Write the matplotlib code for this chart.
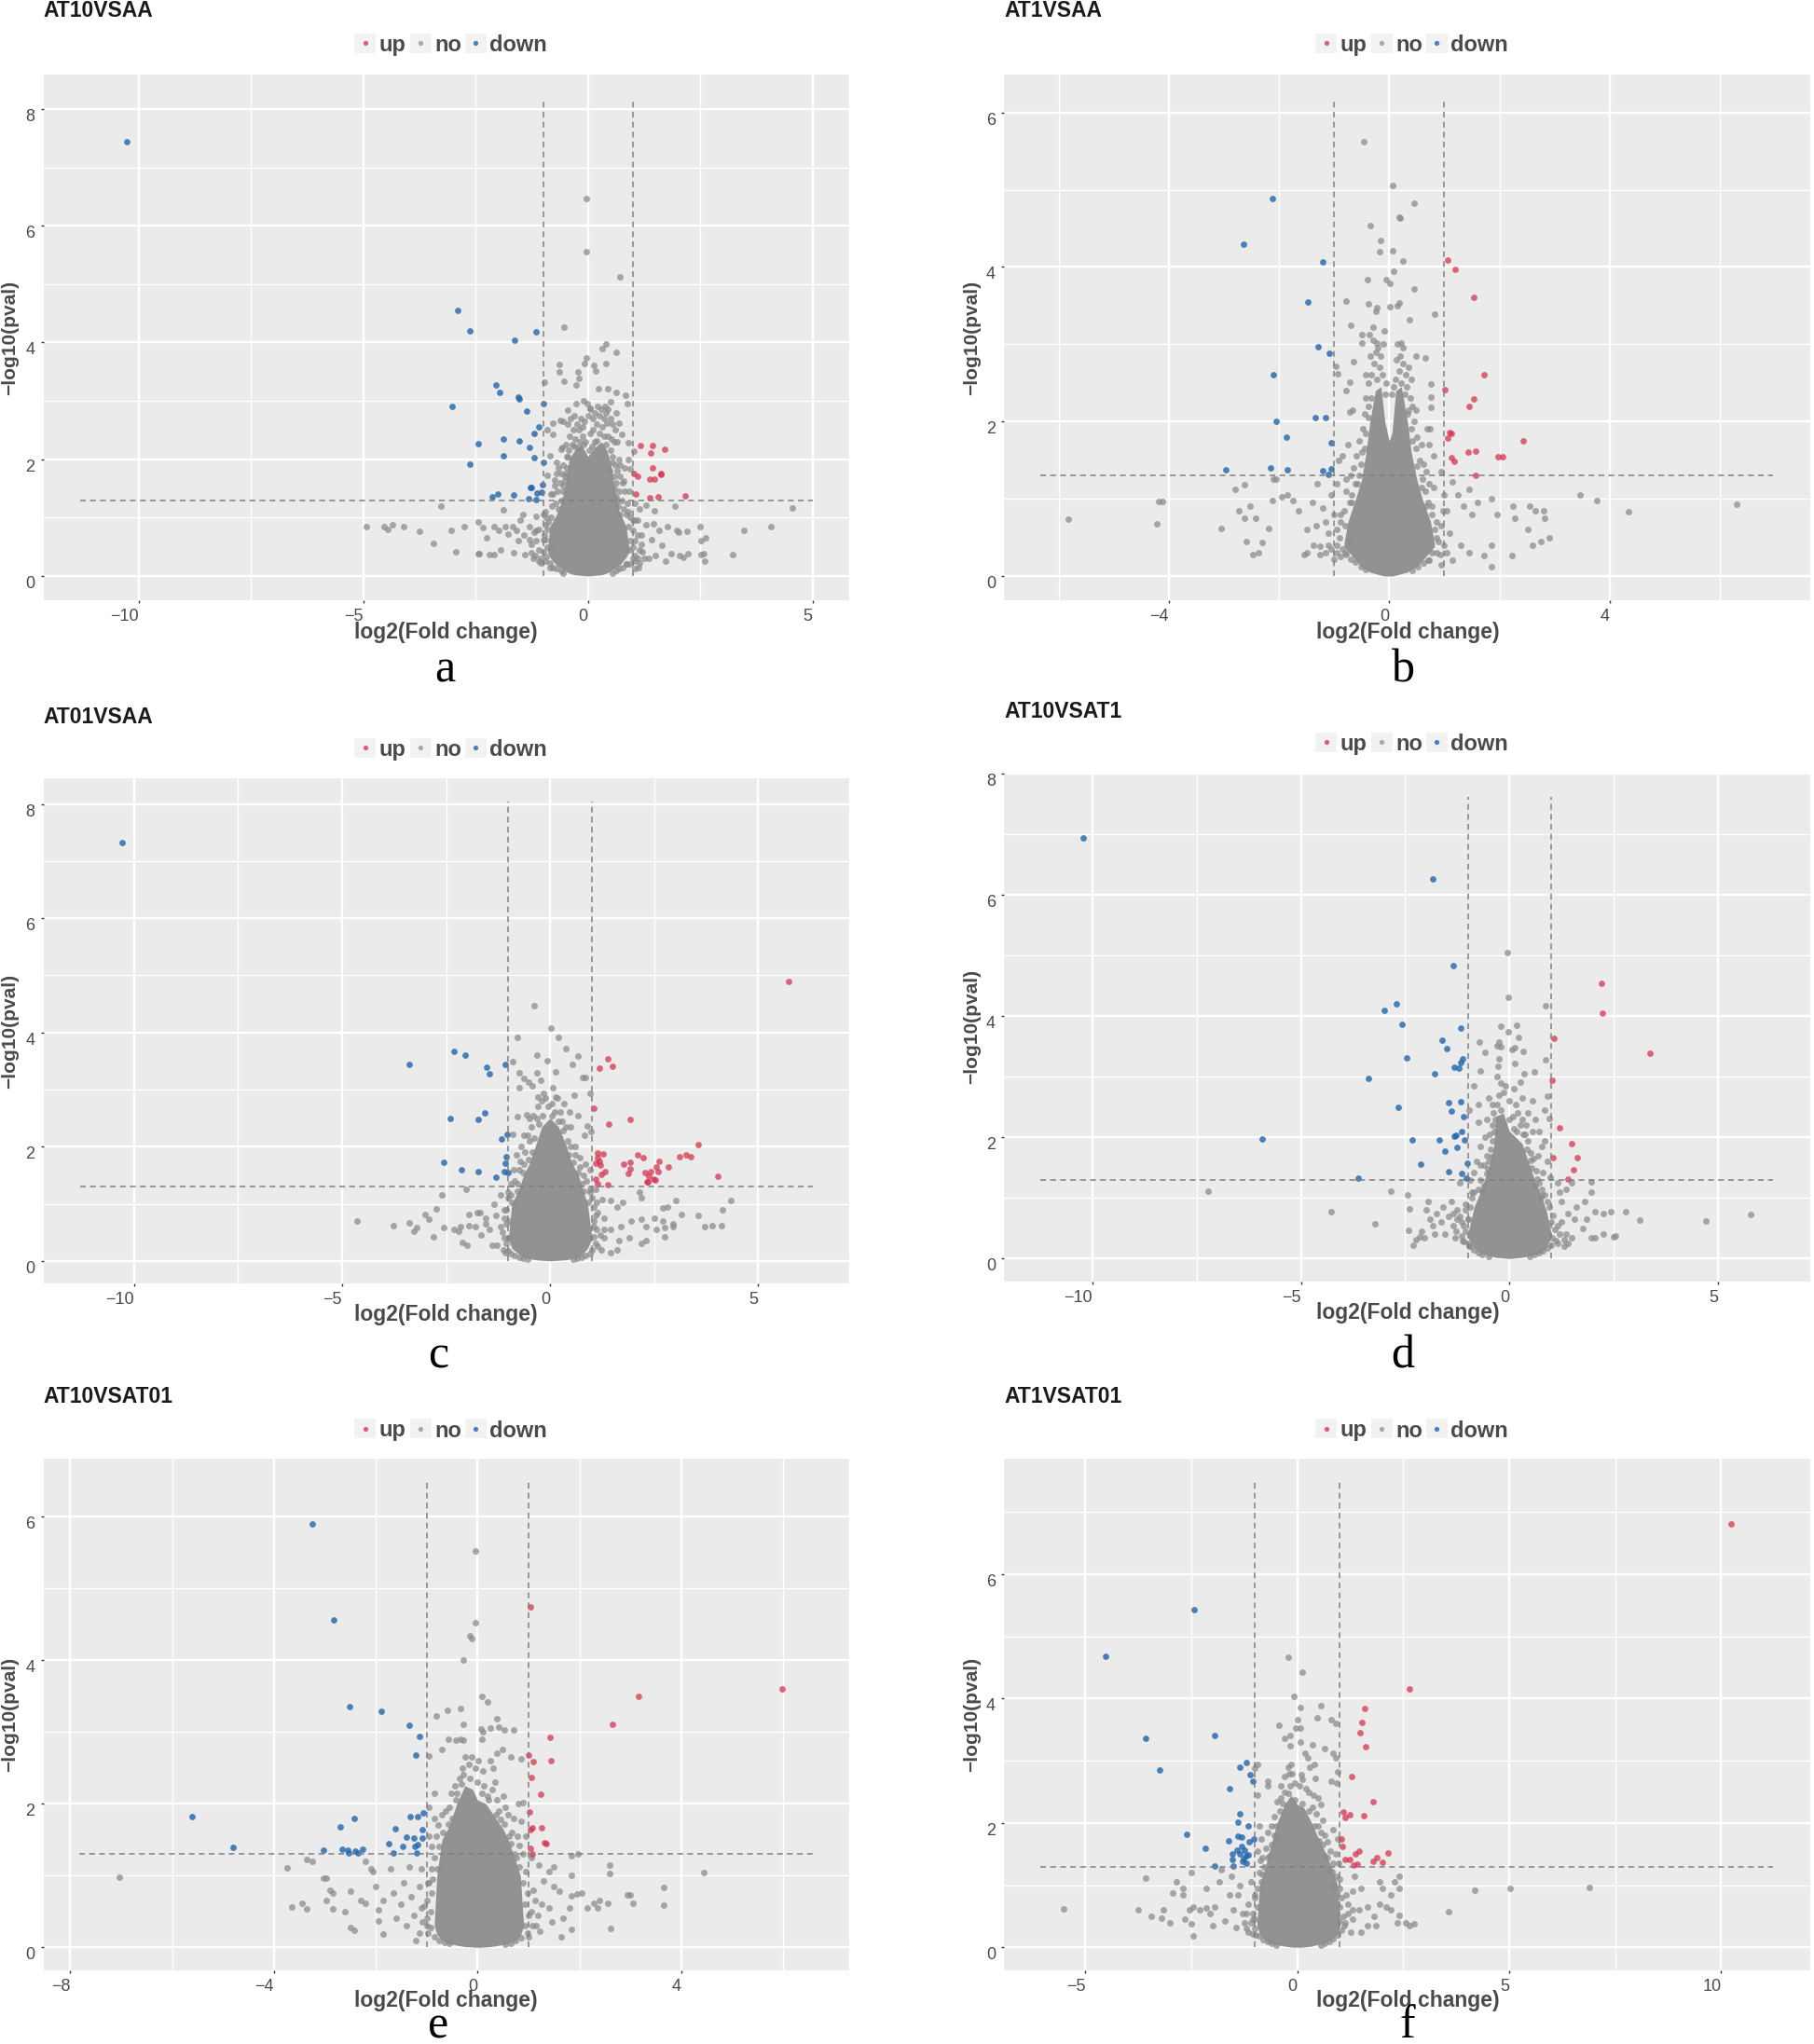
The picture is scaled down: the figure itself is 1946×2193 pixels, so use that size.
import matplotlib
matplotlib.use("Agg")
import matplotlib.pyplot as plt
from matplotlib.patches import Rectangle
from matplotlib.lines import Line2D

W, H = 1946, 2193
plt.rcParams['font.family'] = ['Liberation Sans', 'DejaVu Sans']

# ---------- data ----------
a_down = [(-10.28,7.44),(-2.90,4.55),(-2.64,4.20),(-1.64,4.04),(-1.16,4.19),(-2.04,3.28),(-1.97,3.15),(-1.56,3.06),(-1.54,3.04),
          (-3.02,2.91),(-0.99,2.96),(-1.37,2.82),(-1.10,2.55),(-1.19,2.45),(-2.45,2.27),(-1.89,2.35),(-1.53,2.32),(-1.30,2.20),
          (-1.88,2.06),(-1.20,2.02),(-0.99,1.94),(-2.63,1.91),(-1.02,1.56),(-1.28,1.51),(-1.27,1.52),(-2.01,1.40),(-2.13,1.36),
          (-1.65,1.39),(-1.13,1.42),(-1.04,1.43),(-1.33,1.32),(-1.16,1.31)]
a_up = [(1.16,2.23),(1.44,2.23),(1.70,2.17),(1.39,2.10),(1.43,1.85),(1.03,1.75),(1.10,1.71),(1.62,1.74),(1.63,1.75),(1.37,1.66),
        (1.49,1.66),(1.07,1.40),(1.37,1.34),(1.56,1.35),(2.16,1.37)]
a_no = [(-0.04,6.46),(-0.03,5.56),(0.71,5.12),(-0.54,4.27),(0.41,3.98),(0.31,3.90),(0.62,3.83),(-0.04,3.73),(-0.64,3.62),(-0.64,3.49),
        (0.14,3.61),(0.41,3.64),(-0.08,3.64),(-0.53,3.33),(-0.98,3.32),(-0.23,3.49),(-0.21,3.38),(-0.27,3.27),(0.18,3.51),(0.24,3.21),
        (0.44,3.21),(0.63,3.14),(0.84,3.09),(0.88,2.95),(0.50,2.99),(-0.27,2.95),(-0.46,2.84),(0.05,2.88),(0.63,2.80),(0.70,2.62),
        (-0.62,2.66),(-0.79,2.62),(-0.91,2.51),(-0.79,2.43),(0.76,2.43),(0.89,2.29),(1.02,2.14),(-0.59,2.17),(-0.85,2.06),(0.89,1.99),
        (0.95,1.84),(-0.91,1.73),(-0.75,1.55),(-0.82,1.40),(0.72,1.90),(0.80,1.62),(0.92,1.45),(1.05,1.25),(1.15,1.15),(1.30,1.22),
        (1.48,1.12),(1.93,1.19),(4.55,1.16),(-3.28,1.19),(-1.88,1.14),(-1.45,1.05),(-1.15,1.02),(-0.95,1.10),(-0.88,0.92),
        (-4.93,0.85),(-4.55,0.84),(-4.45,0.79),(-4.35,0.88),(-4.10,0.84),(-3.75,0.77),(-3.45,0.56),(-3.05,0.78),(-2.95,0.42),(-2.75,0.84),
        (-2.45,0.92),(-2.35,0.83),(-2.45,0.39),(-2.42,0.38),(-2.25,0.65),(-2.20,0.36),(-2.10,0.37),(-2.10,0.85),(-1.98,0.78),(-1.95,0.45),
        (-1.85,0.84),(-1.78,0.72),(-1.68,0.85),(-1.60,0.78),(-1.55,0.60),(-1.65,0.40),(-1.50,0.95),(-1.42,0.70),(-1.40,0.36),(-1.30,0.85),
        (-1.25,0.55),(-1.22,0.30),(-1.15,0.78),(-1.10,0.45),(-1.05,0.22),(-1.00,0.62),(-0.92,0.33),(-0.90,0.80),(-0.85,0.15),(-0.80,0.50),
        (0.85,0.20),(0.95,0.60),(1.05,0.95),(1.05,0.35),(1.12,0.15),(1.18,0.70),(1.22,0.42),(1.30,0.88),(1.35,0.30),(1.42,0.62),(1.45,0.90),
        (1.50,0.35),(1.58,0.78),(1.65,0.52),(1.72,0.25),(1.78,0.85),(1.85,0.38),(1.98,0.78),(2.05,0.35),(2.02,0.75),(2.12,0.32),(2.22,0.38),
        (2.20,0.77),(2.50,0.85),(2.52,0.60),(2.52,0.37),(2.58,0.38),(2.60,0.25),(2.62,0.65),(3.22,0.37),(3.47,0.78),(4.08,0.85)]
a_edge = [(-0.55,2.65),(-0.45,2.6),(-0.38,2.7),(-0.3,2.75),(-0.25,2.6),(-0.2,2.5),(-0.15,2.7),(-0.12,2.4),(-0.08,2.65),(0,2.75),(0.05,2.45),(0.1,2.7),
          (0.15,2.8),(0.2,2.6),(0.25,2.75),(0.3,2.85),(0.35,2.7),(0.4,2.8),(0.45,2.85),(0.5,2.7),(0.55,2.6),(0.6,2.5),(0.05,2.85),(-0.02,2.95),(0.22,2.9),
          (0.38,2.9),(-0.1,3.0),(-0.28,2.35),(-0.32,2.5),(-0.4,2.4),(-0.35,2.25),(-0.5,2.25),(-0.58,2.2),(0.65,2.3),(0.58,2.3),(0.52,2.35),(0.45,2.4),
          (0.35,2.4),(0.15,2.3),(0.25,2.45),(-0.18,2.3),(-0.05,2.3),(-0.22,2.2),(0.32,2.55),(-0.12,2.55),(0.42,2.62),(0.12,2.5),(-0.42,2.15),(-0.3,2.22),(-0.1,2.25),
          (0.02,2.15),(0.08,2.22),(0.2,2.32),(0.4,2.25),(0.5,2.15),(0.55,1.95),(0.48,1.8),(-0.45,2.05),(-0.48,1.85),(-0.52,1.7),(-0.55,1.55),(0.58,1.5),(0.65,1.3),
          (-0.7,1.75),(-0.75,1.65),(-0.65,1.85),(-0.62,1.6),(-0.55,1.45),(-0.6,1.75),(-0.55,1.9),(-0.5,1.75),(-0.68,1.45),(-0.78,1.4),(-0.72,1.25),(-0.8,1.2),
          (-0.65,1.15),(-0.7,1.95),(-0.48,2.05),(-0.52,1.62),(-0.6,1.3),(0.6,1.9),(0.65,1.8),(0.72,1.7),(0.78,1.6),(0.62,1.6),(0.7,1.45),(0.82,1.45),(0.75,1.3),
          (0.88,1.25),(0.68,1.2),(0.8,1.15),(0.9,1.1),(0.7,2.0),(0.82,1.85),(0.58,1.7),(0.55,2.05),(0.62,1.35),(0.85,1.05),(0.72,1.05),
          (-1.0,0.42),(-1.05,0.3),(-1.1,0.25),(-0.95,0.62),(-0.98,0.7),(-0.95,0.88),(-1.1,0.8),(-1.2,0.75),(-1.15,0.6),(-1.25,0.4),(-1.18,0.35),(-1.3,0.62),
          (-0.95,0.25),(-0.85,0.22),(-0.78,0.15),(-0.7,0.12),(-0.6,0.1),(-0.55,0.05),(-0.9,0.5),(-0.92,1.0),(-0.82,1.0),(-1.0,1.05),
          (0.55,0.05),(0.62,0.1),(0.7,0.12),(0.78,0.15),(0.85,0.2),(0.95,0.2),(1.0,0.3),(1.05,0.25),(1.1,0.3),(1.0,0.5),(1.05,0.6),(1.1,0.7),(1.0,0.78),(1.0,0.95),
          (1.1,0.95),(0.95,1.0),(1.2,0.55),(1.25,0.3),(1.15,0.45),(1.05,0.12),(1.15,0.22),(0.92,0.45),(0.9,0.85)]
a_cloud_x = [-0.9,-0.85,-0.7,-0.6,-0.5,-0.42,-0.3,-0.15,0,0.15,0.3,0.42,0.5,0.6,0.7,0.85,0.92]
a_cloud_top = [0.45,0.85,1.05,1.25,1.55,2.0,2.15,2.25,2.05,2.2,2.3,2.15,1.95,1.5,1.1,0.85,0.45]
a_cloud_bot = [0.42,0.32,0.18,0.14,0.08,0.05,0.02,0.01,0,0.01,0.02,0.05,0.08,0.14,0.18,0.32,0.42]

b_down = [(-2.12,4.88),(-2.64,4.30),(-1.21,4.07),(-1.47,3.55),(-1.29,2.97),(-1.09,2.88),(-2.11,2.61),(-2.05,2.00),(-1.34,2.05),(-1.15,2.05),
          (-1.87,1.80),(-1.06,1.73),(-2.97,1.37),(-2.16,1.40),(-1.84,1.38),(-1.21,1.36),(-1.05,1.39),(-1.10,1.32)]
b_up = [(1.06,4.09),(1.19,3.97),(1.54,3.61),(1.72,2.61),(1.01,2.41),(1.53,2.29),(1.45,2.19),(1.09,1.86),(1.13,1.85),(1.06,1.78),(2.43,1.75),
        (1.56,1.62),(1.44,1.60),(1.12,1.53),(1.18,1.48),(1.97,1.54),(2.06,1.54),(1.57,1.30)]
b_no = [(-0.46,5.62),(0.06,5.06),(0.45,4.82),(0.18,4.65),(0.20,4.63),(-0.34,4.53),(-0.16,4.34),(-0.17,4.20),(0.06,4.21),(0.25,4.08),(0.08,3.95),
        (-0.40,3.84),(-0.05,3.84),(0.02,3.79),(0.46,3.72),(-0.78,3.56),(-0.37,3.52),(0.18,3.53),(0.14,3.50),(0.02,3.49),(-0.22,3.47),(-0.25,3.43),
        (0.83,3.39),(0.37,3.32),(-0.69,3.25),(-0.29,3.22),(-0.09,3.17),(-0.49,3.12),(-0.36,3.13),(-0.23,3.02),(-0.50,3.02),(0.22,3.02),(0.25,2.96),
        (0.48,2.85),(0.66,2.82),(-0.64,2.78),(-0.97,2.72),(-0.93,2.62),(0.75,2.48),(-0.71,2.51),(-0.78,2.40),(0.75,2.32),(-0.67,2.15),(0.75,2.18),
        (-0.72,2.12),(0.69,1.90),(0.74,1.91),(-0.75,1.70),(-0.85,1.55),(-0.92,1.50),(0.72,1.70),(0.80,1.55),(0.95,1.35),
        (1.15,1.22),(1.25,1.05),(1.35,0.90),(1.45,1.12),(1.60,0.95),(1.85,1.00),(1.95,0.80),(2.25,0.90),(2.28,0.75),(2.55,0.90),(2.65,0.85),(2.80,0.85),(2.82,0.75),
        (2.52,0.60),(2.60,0.40),(2.90,0.50),(2.75,0.45),(2.22,0.27),(1.85,0.40),(1.85,0.12),(1.72,0.27),(1.45,0.30),(1.50,0.80),(1.30,0.40),(1.15,0.20),
        (1.10,0.55),(1.05,0.85),(3.47,1.05),(3.77,0.98),(4.35,0.83),(6.31,0.93),
        (-5.83,0.74),(-4.18,0.96),(-4.12,0.96),(-4.22,0.67),(-3.05,0.62),(-2.80,1.12),(-2.62,1.18),(-2.72,0.84),(-2.62,0.75),(-2.60,0.45),(-2.52,0.90),
        (-2.48,0.28),(-2.42,0.75),(-2.38,0.30),(-2.30,0.43),(-2.12,0.98),(-2.18,0.62),(-2.10,1.25),(-2.05,1.25),(-1.95,1.03),(-1.85,1.05),(-1.75,0.98),
        (-1.65,0.85),(-1.55,0.28),(-1.50,0.60),(-1.50,0.30),(-1.40,0.95),(-1.38,0.40),(-1.32,0.65),(-1.30,1.20),(-1.25,0.38),(-1.20,0.88),(-1.15,0.70),
        (-1.10,0.40),(-1.05,1.05),(-1.00,0.22),(-0.95,1.20),(-0.95,0.60),(-0.88,0.80),(-0.80,0.30),(-0.78,1.25),(-0.72,0.45),(0.78,0.90),(0.72,0.20),(0.85,0.50)]
b_edge = [(-0.3,3.05),(-0.25,2.9),(-0.2,2.95),(-0.28,2.75),(-0.18,2.7),(-0.32,2.6),(-0.22,2.55),(-0.12,2.6),(-0.38,2.5),(-0.42,2.6),(-0.15,2.85),(-0.35,2.85),(-0.1,3.0),
          (0.15,3.0),(0.2,2.85),(0.13,2.8),(0.25,2.75),(0.18,2.65),(0.12,2.55),(0.3,2.6),(0.35,2.7),(0.22,2.5),(0.4,2.55),(0.32,2.45),(0.08,2.45),(0.05,2.35),
          (-0.05,2.5),(-0.08,2.35),(-0.42,2.3),(-0.38,2.2),(-0.45,2.1),(0.42,2.2),(0.38,2.3),(0.35,2.15),(0.48,2.15),(0.45,2.0),(-0.48,1.9),(-0.42,1.85),(0.4,1.9),
          (-0.33,2.3),(-0.38,2.05),(0.28,2.35),(0.34,2.1),(0.42,1.75),(-0.45,1.65),(-0.52,1.45),(0.5,1.42),(-0.58,1.2),(0.58,1.15),(-0.68,0.95),(0.68,0.9),
          (-0.55,1.75),(-0.5,1.6),(-0.6,1.55),(-0.65,1.4),(-0.55,1.3),(-0.62,1.2),(-0.7,1.3),(-0.78,1.1),(-0.68,1.05),(-0.72,0.95),
          (0.5,1.8),(0.48,1.65),(0.58,1.7),(0.55,1.5),(0.62,1.45),(0.68,1.35),(0.6,1.25),(0.72,1.2),(0.65,1.1),(0.8,1.15),(0.7,0.95),
          (-0.82,0.85),(-0.88,0.7),(-0.8,0.65),(-0.9,0.5),(-0.95,0.4),(-0.85,0.35),(-0.95,0.3),(-0.88,0.25),(-0.78,0.28),(-0.7,0.22),(-0.62,0.18),(-0.52,0.12),(-0.42,0.08),
          (-1.05,0.35),(-1.1,0.55),(-1.0,0.8),(-1.15,0.3),(-1.25,0.28),
          (0.78,0.8),(0.85,0.7),(0.82,0.6),(0.9,0.45),(0.85,0.3),(0.92,0.28),(0.95,0.65),(0.78,0.3),(0.7,0.2),(0.62,0.17),(0.52,0.12),(0.42,0.07),(1.0,0.4),(1.05,0.3),
          (0.95,0.15),(0.98,0.85),(1.0,1.05)]
b_cloud_x = [-0.82,-0.75,-0.6,-0.5,-0.42,-0.35,-0.25,-0.15,-0.08,0,0.05,0.12,0.22,0.33,0.4,0.5,0.6,0.75,0.82]
b_cloud_top = [0.42,0.7,1.02,1.25,1.6,2.0,2.4,2.45,2.0,1.75,1.85,2.4,2.45,2.0,1.6,1.25,1.0,0.7,0.42]
b_cloud_bot = [0.38,0.32,0.2,0.12,0.09,0.05,0.03,0.01,0,0,0,0.01,0.03,0.05,0.09,0.12,0.2,0.32,0.38]

c_down = [(-10.28,7.32),(-3.38,3.44),(-2.32,3.67),(-2.04,3.60),(-1.53,3.39),(-1.46,3.27),(-1.08,3.44),(-2.41,2.50),(-1.72,2.48),(-1.57,2.59),
          (-1.03,2.21),(-1.17,2.14),(-2.55,1.73),(-1.06,1.82),(-1.08,1.71),(-2.13,1.60),(-1.72,1.57),(-1.11,1.56),(-1.31,1.46),(-1.02,1.54)]
c_up = [(5.73,4.89),(1.38,3.54),(1.18,3.38),(1.50,3.40),(1.04,2.67),(1.93,2.47),(1.42,2.39),(3.57,2.04),(3.27,1.86),(3.39,1.83),(3.12,1.82),
        (2.10,1.85),(2.24,1.80),(1.13,1.89),(1.28,1.88),(1.14,1.80),(1.10,1.71),(1.18,1.74),(1.20,1.67),(1.77,1.69),(1.92,1.73),(2.63,1.74),
        (2.56,1.65),(2.84,1.64),(1.92,1.61),(1.88,1.53),(2.60,1.56),(2.29,1.54),(2.42,1.56),(2.38,1.48),(2.49,1.44),(2.53,1.42),(2.32,1.38),
        (2.34,1.39),(4.02,1.48),(1.31,1.56),(1.24,1.52),(1.10,1.44),(1.14,1.35),(1.38,1.33)]
c_no = [(-0.39,4.46),(0.03,4.08),(-0.79,3.91),(0.21,3.92),(0.38,3.72),(-0.31,3.60),(0.67,3.59),(-0.08,3.51),(-0.89,3.49),(0.53,3.44),(0.13,3.31),
        (-0.63,3.19),(-0.32,3.29),(0.78,3.21),(0.85,3.21),(-0.75,3.29),(-0.51,3.13),(-0.22,3.17),(-0.43,3.06),(-0.75,3.03),(0.06,3.03),(-0.15,2.94),
        (0.96,2.93),(0.58,2.90),(0.13,2.87),(-0.29,2.87),(0.33,2.75),(0.47,2.60),(0.68,2.54),(0.89,2.37),(0.99,2.26),(0.82,2.20),(-0.89,2.21),
        (-0.78,2.52),(-0.57,2.56),(0.95,1.25),(1.10,1.25),(1.25,1.08),
        (1.45,1.05),(1.60,0.95),(1.75,1.02),(2.15,1.20),(2.20,1.10),(3.03,1.06),(2.70,0.92),(2.82,0.95),(3.15,0.82),(3.55,0.80),(4.35,1.05),(4.15,0.89),
        (3.72,0.60),(3.90,0.61),(4.13,0.62),(2.95,0.60),(2.95,0.65),(2.70,0.70),(2.75,0.58),(2.75,0.42),(2.50,0.75),(2.20,0.73),(2.30,0.60),(2.20,0.30),
        (2.30,0.35),(2.55,0.55),(1.95,0.70),(1.90,0.40),(1.70,0.60),(1.65,0.35),(1.60,0.20),(1.45,0.55),(1.45,0.14),(1.30,0.75),(1.30,0.40),(1.15,0.85),
        (1.15,0.25),(1.05,0.60),
        (-4.63,0.70),(-3.77,0.61),(-3.38,0.67),(-3.27,0.52),(-3.20,0.59),(-3.00,0.82),(-2.92,0.73),(-2.73,0.91),(-2.80,0.42),(-2.60,1.15),(-2.55,0.59),
        (-2.30,0.55),(-2.20,0.52),(-2.15,0.60),(-2.10,0.32),(-2.00,0.28),(-2.03,1.25),(-1.95,0.62),(-1.95,0.82),(-1.80,0.60),(-1.75,0.85),(-1.68,0.85),
        (-1.65,0.45),(-1.55,0.65),(-1.55,0.75),(-1.45,0.55),(-1.35,1.00),(-1.40,0.28),(-1.30,0.80),(-1.28,0.28),(-1.20,1.15),(-1.18,0.60),(-1.10,0.90),
        (-1.08,0.15),(-1.02,0.40),(-1.00,1.20),(-0.98,0.70)]
c_edge = [(-0.5,2.5),(-0.4,2.55),(-0.45,2.35),(-0.32,2.5),(-0.3,2.7),(-0.2,2.8),(-0.12,2.85),(-0.05,2.7),(0.05,2.75),(0.12,2.6),(0.18,2.85),(0.25,2.6),(0.3,2.45),(0.38,2.35),
          (0.2,2.45),(0.05,2.55),(-0.18,2.55),(-0.55,2.2),(-0.62,2.2),(-0.5,2.1),(-0.7,2.0),(-0.6,1.9),(-0.8,1.85),(-0.72,1.75),(-0.62,1.7),(-0.88,1.6),(-0.75,1.6),(-0.95,1.35),(-0.85,1.4),
          (-0.78,1.35),(-1.0,1.1),(-0.95,1.15),(0.5,2.35),(0.6,2.0),(0.5,2.0),(0.72,1.8),(0.6,1.85),(0.85,1.7),(0.72,1.65),(0.95,1.6),(0.8,1.5),(0.88,1.4),(0.75,1.35),(0.95,1.2),(1.0,1.1),
          (-0.38,2.15),(-0.28,2.4),(0.32,2.28),(0.42,2.1),(-0.42,1.9),(-0.52,1.78),(0.45,1.85),(0.55,1.72),(-0.66,1.55),(0.68,1.55),(-0.78,1.22),(0.8,1.22),(-0.92,1.02),(0.92,1.02),
          (-1.05,0.9),(-1.1,0.75),(-1.05,0.65),(-1.15,0.5),(-1.1,0.4),(-1.05,0.3),(-1.12,0.2),(-1.0,0.18),(-0.95,0.12),(-0.85,0.1),(-0.75,0.07),(-0.65,0.05),(-0.55,0.03),
          (1.05,0.95),(1.1,0.8),(1.05,0.7),(1.12,0.55),(1.05,0.42),(1.1,0.3),(1.0,0.2),(0.95,0.12),(0.85,0.09),(0.75,0.07),(0.65,0.04),(0.55,0.03),(1.2,0.45),(1.22,0.2),(1.3,0.55),(1.12,1.02)]
c_cloud_x = [-1.0,-0.92,-0.75,-0.64,-0.5,-0.36,-0.2,0,0.2,0.4,0.5,0.68,0.78,0.9,1.0]
c_cloud_top = [0.42,1.0,1.25,1.5,1.7,2.0,2.35,2.5,2.35,2.0,1.75,1.5,1.25,1.0,0.42]
c_cloud_bot = [0.38,0.22,0.12,0.07,0.04,0.02,0.01,0,0.01,0.02,0.04,0.07,0.12,0.22,0.38]

d_down = [(-10.22,6.95),(-1.84,6.27),(-1.35,4.83),(-2.72,4.20),(-3.00,4.09),(-2.58,3.86),(-1.18,3.81),(-1.61,3.61),(-1.51,3.47),(-2.47,3.31),
          (-1.12,3.30),(-1.18,3.23),(-1.32,3.16),(-1.21,3.15),(-1.79,3.05),(-3.38,2.98),(-1.46,2.58),(-1.18,2.59),(-2.66,2.49),(-1.40,2.43),
          (-1.10,2.34),(-1.14,2.09),(-1.28,2.03),(-1.32,2.02),(-5.94,1.97),(-2.34,1.96),(-1.69,1.96),(-1.08,1.96),(-1.25,1.84),(-1.54,1.78),
          (-2.12,1.56),(-1.01,1.57),(-1.47,1.44),(-1.14,1.41),(-1.04,1.33),(-3.62,1.33)]
d_up = [(2.21,4.54),(2.22,4.05),(1.07,3.63),(3.36,3.39),(1.01,2.94),(1.19,2.16),(1.50,1.89),(1.04,1.67),(1.62,1.66),(1.54,1.47),(1.39,1.31)]
d_no = [(-0.06,5.05),(-0.04,4.32),(0.86,4.18),(-0.22,3.83),(0.16,3.85),(-0.03,3.75),(0.22,3.65),(-0.72,3.58),(-0.25,3.58),(-0.30,3.52),(-0.20,3.50),
        (-0.58,3.41),(0.05,3.45),(0.13,3.48),(0.32,3.42),(-0.25,3.30),(0.86,3.28),(0.12,3.22),(-0.28,3.18),(-0.70,3.10),(0.60,3.08),(0.35,3.05),(-0.30,3.00),
        (-0.85,2.85),(-0.20,2.90),(0.25,2.92),(0.10,2.80),(0.30,2.65),(-0.50,2.65),(-0.75,2.55),(0.55,2.60),(-0.98,2.45),(0.90,2.68),(0.85,2.45),(0.95,2.32),
        (-0.55,2.30),(0.45,2.40),(0.62,2.30),(-0.75,2.25),(0.70,2.10),(0.55,2.10),(-0.60,2.00),(-0.70,1.85),(0.78,1.85),(0.85,1.95),(0.68,1.70),(-0.80,1.60),
        (-0.70,1.55),(0.90,1.60),(0.80,1.42),(-0.85,1.42),(-0.95,1.30),(0.98,1.35),(1.15,1.25),(1.20,1.10),(1.35,1.15),(1.50,1.25),(1.95,1.27),(1.95,1.10),
        (1.80,0.95),(1.60,0.85),(1.40,0.75),(1.25,0.95),(1.15,0.55),(1.35,0.40),(1.50,0.35),(1.55,0.65),(1.75,0.50),(1.85,0.65),(1.95,0.35),(2.05,0.35),
        (2.05,0.78),(2.25,0.75),(2.25,0.40),(2.43,0.77),(2.50,0.36),(2.55,0.37),(2.78,0.78),(3.13,0.64),(4.70,0.62),(5.78,0.73),(1.15,0.25),(1.30,0.20),
        (-7.22,1.12),(-4.28,0.77),(-3.23,0.58),(-2.85,1.12),(-2.45,1.05),(-2.40,0.82),(-2.42,0.46),(-2.30,0.22),(-2.25,0.32),(-2.15,0.36),(-2.10,0.45),
        (-2.05,0.35),(-2.00,0.80),(-1.95,0.95),(-1.90,0.65),(-1.85,0.55),(-1.80,0.40),(-1.75,0.75),(-1.65,0.60),(-1.60,0.85),(-1.55,0.40),(-1.45,0.70),
        (-1.40,0.95),(-1.35,0.55),(-1.30,0.35),(-1.25,0.80),(-1.20,1.25),(-1.15,0.60),(-1.12,0.30),(-1.05,0.90),(-1.00,0.65),(-0.98,0.20),(-0.90,1.10)]
d_edge = [(-0.2,2.45),(-0.15,2.75),(-0.1,2.85),(-0.25,2.7),(0.0,2.6),(0.15,2.55),(0.08,2.35),(0.2,2.4),(0.3,2.3),(-0.38,2.4),(-0.42,2.55),(-0.3,2.55),(0.0,2.3),(0.25,2.2),(0.4,2.2),(0.18,2.1),
          (-0.42,2.2),(-0.48,2.05),(-0.4,1.95),(0.38,2.05),(0.45,1.95),(-0.45,1.8),(-0.55,1.7),(-0.5,1.6),(-0.62,1.55),(-0.55,1.4),(-0.7,1.3),(-0.62,1.2),(-0.75,1.15),
          (-0.85,1.1),(0.5,1.75),(0.58,1.65),(0.52,1.5),(0.65,1.45),(0.7,1.25),(0.62,1.2),(0.78,1.15),(0.85,1.05),(0.9,0.95),(0.75,1.0),
          (-0.35,2.3),(-0.36,2.1),(0.1,2.15),(0.32,2.05),(0.42,1.8),(-0.43,1.68),(0.5,1.62),(-0.52,1.48),(-0.66,1.12),(0.66,1.32),(0.78,1.05),
          (-0.9,1.0),(-0.95,0.85),(-1.05,0.8),(-1.0,0.65),(-1.1,0.55),(-1.05,0.45),(-1.15,0.38),(-1.1,0.28),(-1.0,0.25),(-0.95,0.2),(-0.85,0.15),(-0.75,0.1),(-0.65,0.07),(-0.5,0.04),
          (-1.25,0.65),(-1.35,0.75),(-1.28,0.45),(-1.2,0.7),
          (0.95,0.85),(1.05,0.72),(1.0,0.6),(1.08,0.48),(1.02,0.35),(1.12,0.3),(1.0,0.22),(0.9,0.18),(0.8,0.13),(0.7,0.1),(0.6,0.06),(0.48,0.04),(1.2,0.4),(1.25,0.6),(1.3,0.32),(1.4,0.25)]
d_cloud_x = [-1.0,-0.85,-0.7,-0.5,-0.38,-0.33,-0.15,0,0.15,0.3,0.45,0.6,0.75,0.88,1.0]
d_cloud_top = [0.4,0.85,1.1,1.5,1.85,2.35,2.4,2.1,2.0,1.9,1.6,1.3,1.05,0.8,0.4]
d_cloud_bot = [0.35,0.18,0.1,0.05,0.03,0.02,0.01,0,0.01,0.02,0.04,0.07,0.1,0.18,0.35]

e_down = [(-3.24,5.89),(-2.82,4.56),(-2.51,3.35),(-1.89,3.29),(-1.35,3.09),(-1.15,2.94),(-1.22,2.67),(-5.61,1.82),(-4.81,1.39),(-2.43,1.79),(-2.70,1.68),
          (-1.07,1.87),(-1.32,1.82),(-1.18,1.82),(-1.61,1.65),(-1.08,1.64),(-1.39,1.54),(-1.25,1.52),(-1.09,1.52),(-1.75,1.45),(-1.48,1.41),(-1.17,1.43),
          (-1.23,1.40),(-1.20,1.32),(-3.02,1.35),(-2.67,1.37),(-2.56,1.35),(-2.53,1.31),(-2.40,1.34),(-2.35,1.32),(-2.25,1.37),(-1.66,1.31)]
e_up = [(5.98,3.60),(3.16,3.49),(2.64,3.10),(1.03,4.74),(1.43,2.92),(1.01,2.68),(1.09,2.59),(1.44,2.60),(1.05,2.37),(1.24,2.13),(1.02,1.89),(1.07,1.67),
        (1.03,1.64),(1.26,1.67),(1.31,1.46),(1.35,1.44),(1.03,1.38),(1.07,1.30)]
e_no = [(-0.05,5.51),(-0.05,4.52),(-0.15,4.34),(-0.12,4.30),(-0.28,4.00),(0.09,3.49),(0.20,3.41),(-0.60,3.30),(-0.34,3.32),(-0.81,3.22),(-0.28,3.10),
        (0.37,3.18),(0.25,3.05),(0.42,3.07),(0.07,3.04),(0.10,3.00),(0.52,3.03),(0.71,3.03),(-0.58,2.90),(-0.42,2.88),(-0.33,2.90),(-0.28,2.88),(0.09,2.90),
        (-0.70,2.75),(-0.95,2.66),(0.38,2.70),(0.48,2.75),(0.65,2.65),(0.85,2.62),(-0.85,2.15),(0.90,2.02),(0.80,2.00),(-0.95,1.95),(-0.85,1.80),
        (0.85,1.75),(-0.95,1.55),(0.95,1.55),(-0.90,1.40),(1.05,1.25),(1.20,1.15),(1.40,1.05),(1.50,1.12),(1.85,1.28),(1.98,1.30),
        (1.85,1.00),(2.60,1.14),(2.60,1.03),(4.45,1.04),(3.65,0.83),(3.65,0.59),(2.95,0.73),(3.00,0.73),(3.05,0.62),(2.55,0.62),(2.40,0.65),(2.28,0.62),(2.35,0.55),
        (2.15,0.55),(2.05,0.75),(1.95,0.74),(1.85,0.72),(1.80,0.55),(1.60,0.78),(1.68,0.40),(1.85,0.25),(1.65,0.15),(2.62,0.27),(1.50,0.85),(1.40,0.55),(1.45,0.35),
        (1.30,0.92),(1.25,0.60),(1.15,0.30),(1.10,0.80),(1.05,0.50),(1.00,0.15),
        (-7.03,0.98),(-3.75,1.11),(-3.35,1.22),(-3.25,1.20),(-3.02,0.97),(-2.98,0.96),(-2.90,0.80),(-3.45,0.62),(-3.65,0.56),(-3.35,0.53),(-2.97,0.65),(-2.85,0.75),(-2.85,0.53),
        (-2.60,0.50),(-2.50,0.78),(-2.50,0.28),(-2.42,0.24),(-2.30,0.65),(-2.20,0.62),(-2.20,1.20),(-2.10,1.10),(-2.05,1.05),(-2.00,0.85),(-1.95,0.52),(-1.95,0.37),
        (-1.85,0.65),(-1.85,0.19),(-1.70,1.10),(-1.65,0.75),(-1.60,0.40),(-1.50,0.60),(-1.45,0.90),(-1.40,0.30),(-1.35,1.12),(-1.30,0.70),(-1.25,0.45),(-1.22,0.10),
        (-1.15,0.85),(-1.10,1.10),(-1.05,0.58),(-1.00,0.30),(-0.98,0.90)]
e_edge = [(-0.25,2.65),(-0.18,2.55),(-0.12,2.65),(-0.05,2.5),(0.02,2.6),(0.1,2.45),(0.25,2.6),(0.3,2.5),(-0.3,2.5),(-0.35,2.35),(-0.28,2.4),(-0.15,2.35),(0.0,2.3),(0.12,2.25),(0.35,2.3),(0.28,2.2),
          (-0.45,2.25),(-0.52,2.15),(-0.4,2.15),(0.2,2.1),(0.38,2.05),(0.5,2.1),(0.55,1.95),(0.42,1.9),(-0.55,1.95),(-0.62,1.9),(-0.5,1.8),(-0.7,1.85),(0.6,1.85),(0.7,1.8),(0.52,1.72),
          (-0.78,1.7),(-0.68,1.6),(-0.82,1.55),(-0.75,1.4),(0.68,1.6),(0.78,1.55),(0.65,1.45),(0.82,1.42),(0.72,1.3),(0.9,1.3),(-0.85,1.25),(-0.8,1.1),
          (-0.32,2.28),(-0.42,2.05),(0.08,2.15),(0.22,2.05),(0.36,1.85),(0.46,1.78),(-0.58,1.72),(0.62,1.55),(0.76,1.25),(0.82,1.12),(-0.88,0.95),
          (-0.9,1.1),(-0.95,0.9),(-0.9,0.75),(-1.0,0.65),(-0.92,0.5),(-1.0,0.4),(-0.92,0.28),(-0.98,0.2),(-0.85,0.15),(-0.75,0.1),(-0.65,0.07),(-0.55,0.05),(-1.1,0.55),(-1.08,0.35),(-1.15,0.2),
          (0.95,1.05),(0.9,0.9),(0.98,0.75),(0.92,0.6),(1.0,0.45),(0.92,0.3),(0.98,0.2),(0.85,0.13),(0.75,0.09),(0.65,0.06),(0.55,0.04),(1.08,0.3),(1.12,0.65),(1.18,0.45),(1.22,0.22)]
e_cloud_x = [-0.85,-0.8,-0.7,-0.55,-0.41,-0.25,-0.1,0,0.16,0.35,0.5,0.6,0.75,0.84,0.9]
e_cloud_top = [0.35,1.0,1.5,1.7,2.0,2.25,2.2,2.05,2.0,1.8,1.65,1.5,1.2,1.0,0.35]
e_cloud_bot = [0.3,0.18,0.1,0.05,0.03,0.01,0.005,0,0.005,0.02,0.04,0.06,0.1,0.16,0.3]

f_down = [(-2.43,5.43),(-4.52,4.68),(-1.95,3.41),(-3.57,3.36),(-3.25,2.86),(-1.21,2.97),(-1.36,2.90),(-1.11,2.78),(-1.06,2.67),(-1.60,2.56),(-1.35,2.15),
          (-1.39,2.01),(-1.15,1.96),(-2.61,1.82),(-1.39,1.79),(-1.32,1.77),(-1.61,1.72),(-1.02,1.74),(-1.13,1.70),(-2.17,1.59),(-1.31,1.63),(-1.43,1.57),
          (-1.24,1.56),(-1.53,1.51),(-1.36,1.50),(-1.17,1.49),(-1.53,1.42),(-1.27,1.43),(-1.21,1.47),(-1.30,1.38),(-1.21,1.36),(-1.94,1.31),(-1.51,1.31)]
f_up = [(10.22,6.81),(2.65,4.16),(1.60,3.84),(1.53,3.62),(1.47,3.46),(1.62,3.23),(1.28,2.75),(1.79,2.34),(1.09,2.18),(1.12,2.09),(1.23,2.13),(1.57,2.12),
        (1.04,1.75),(1.06,1.62),(1.45,1.55),(1.38,1.51),(2.14,1.52),(1.88,1.44),(1.12,1.41),(1.23,1.42),(1.79,1.38),(2.01,1.37),(1.32,1.33),(1.42,1.34)]
f_no = [(-0.22,4.67),(0.11,4.43),(-0.08,4.03),(0.07,3.86),(0.56,3.89),(0.47,3.69),(0.79,3.67),(0.90,3.60),(-0.43,3.58),(0.00,3.66),(-0.03,3.53),(0.07,3.53),
        (-0.30,3.37),(-0.16,3.41),(-0.17,3.25),(0.07,3.30),(0.35,3.26),(0.18,3.12),(0.85,3.13),(0.90,3.05),(0.65,3.20),(0.25,3.05),(-0.95,2.95),(-1.00,2.88),
        (-0.15,2.95),(-0.20,2.80),(0.10,2.78),(0.30,2.90),(0.40,2.95),(0.42,2.72),(-0.70,2.68),(-0.70,2.60),(0.80,2.67),(0.93,2.65),(0.95,2.82),(-0.95,2.45),
        (-0.90,1.95),(0.85,1.90),(-0.85,1.75),(0.95,1.75),
        (0.90,1.50),(-0.95,1.55),(-0.88,1.40),(0.98,1.35),(1.35,1.15),(1.30,0.90),(1.45,0.60),(1.50,0.95),(1.20,0.55),(1.15,0.85),(1.10,0.35),(1.30,0.45),(1.50,0.25),
        (1.65,0.65),(1.65,0.35),(1.80,0.50),(1.85,0.35),(1.95,0.70),(2.10,0.65),(2.00,0.95),(1.95,1.05),(2.30,1.05),(2.40,1.15),(2.40,0.95),(2.40,0.52),(2.35,0.40),
        (2.20,0.85),(2.20,0.60),(2.55,0.40),(2.65,0.35),(2.75,0.38),(3.57,0.57),(4.18,0.92),(5.03,0.95),(6.88,0.96),
        (-5.52,0.62),(-3.75,0.61),(-3.57,1.12),(-3.45,0.50),(-3.20,0.47),(-3.15,0.60),(-3.00,0.40),(-2.95,0.87),(-2.85,1.06),(-2.70,0.95),(-2.70,0.85),(-2.65,0.45),
        (-2.55,0.60),(-2.50,1.20),(-2.45,0.65),(-2.50,0.38),(-2.45,0.18),(-2.30,0.60),(-2.15,0.63),(-2.15,0.95),(-2.05,0.55),(-2.00,0.35),(-1.95,0.65),(-1.85,1.05),
        (-1.80,1.25),(-1.70,0.42),(-1.60,0.85),(-1.55,1.15),(-1.50,0.60),(-1.45,0.32),(-1.40,0.85),(-1.35,1.00),(-1.30,0.55),(-1.20,0.30),(-1.15,0.70),(-1.10,1.05),
        (-1.05,0.45),(-1.00,0.85),(-0.98,0.20)]
f_edge = [(-0.3,2.75),(-0.22,2.9),(-0.12,2.8),(-0.05,2.65),(0.05,2.6),(0.12,2.7),(0.2,2.55),(-0.38,2.6),(-0.3,2.5),(-0.18,2.6),(0.28,2.5),(0.38,2.45),(0.48,2.4),(0.55,2.3),(-0.38,2.4),(-0.48,2.35),
          (-0.42,2.2),(0.35,2.25),(0.45,2.15),(0.6,2.05),(0.5,1.95),(-0.55,2.1),(-0.5,1.95),(-0.62,1.95),(-0.55,1.8),(-0.7,1.85),(-0.62,1.65),(0.55,1.85),(0.65,1.8),(0.72,1.7),(0.6,1.65),
          (-0.75,1.6),(-0.7,1.45),(-0.82,1.45),(-0.78,1.3),(0.78,1.55),(0.7,1.45),(0.85,1.35),(0.75,1.25),(-0.9,1.2),(-0.85,1.05),(0.9,1.15),(0.85,1.0),(1.0,1.1),
          (-0.35,2.32),(-0.22,2.48),(-0.05,2.38),(0.12,2.32),(0.28,2.2),(0.4,1.95),(0.52,1.72),(-0.5,1.78),(-0.65,1.48),(0.65,1.48),(0.82,1.22),(-0.82,1.18),
          (-0.95,0.95),(-1.0,0.8),(-0.95,0.65),(-1.05,0.55),(-1.0,0.45),(-1.1,0.4),(-1.0,0.3),(-1.05,0.22),(-0.9,0.18),(-0.8,0.13),(-0.7,0.09),(-0.6,0.06),(-0.5,0.04),(-1.2,0.55),(-1.25,0.4),(-1.15,0.25),
          (1.0,0.95),(1.05,0.8),(1.0,0.65),(1.08,0.5),(1.0,0.42),(1.12,0.4),(1.05,0.28),(0.95,0.2),(0.85,0.14),(0.75,0.1),(0.65,0.06),(0.55,0.04),(1.2,0.7),(1.25,0.25),(1.3,0.6)]
f_cloud_x = [-0.95,-0.89,-0.75,-0.68,-0.48,-0.3,-0.15,0,0.15,0.34,0.5,0.68,0.82,0.95,1.0]
f_cloud_top = [0.4,1.0,1.3,1.5,2.0,2.3,2.45,2.3,2.25,2.0,1.75,1.5,1.25,1.0,0.4]
f_cloud_bot = [0.35,0.22,0.12,0.08,0.04,0.02,0.005,0,0.005,0.02,0.05,0.08,0.14,0.22,0.35]

fc_cut = 1
p_cut = 1.3
legend_labels = ['up', 'no', 'down']

# ---------- styles and layout ----------
UP, NO, DOWN = '#d62f4a', '#8c8c8c', '#2166ac'
CORE = '#929292'
TXT = '#4a4a4a'

panels = [
    dict(title='AT10VSAA', letter='a', box=(46.5, 80, 911, 644), xlim=(-12.13, 5.82), ylim=(-0.416, 8.59),
         xmaj=[-10,-5,0,5], xmin=[-7.5,-2.5,2.5], ymaj=[0,2,4,6,8], ymin=[1,3,5,7],
         h=(-11.3, 5.0), vtop=8.18, title_y=11, leg_y=46, xl_y=678.5, yl_y=362, let=(477, 719),
         down=a_down, up=a_up, no=a_no+a_edge, cx=a_cloud_x, ct=a_cloud_top, cb=a_cloud_bot),
    dict(title='AT1VSAA', letter='b', box=(1077, 80, 1942, 644), xlim=(-6.99, 7.64), ylim=(-0.314, 6.49),
         xmaj=[-4,0,4], xmin=[-6,-2,2,6], ymaj=[0,2,4,6], ymin=[1,3,5],
         h=(-6.33, 6.97), vtop=6.19, title_y=11, leg_y=46, xl_y=678.5, yl_y=362, let=(1505, 719),
         down=b_down, up=b_up, no=b_no+b_edge, cx=b_cloud_x, ct=b_cloud_top, cb=b_cloud_bot),
    dict(title='AT01VSAA', letter='c', box=(46.5, 835, 911, 1377), xlim=(-12.18, 7.19), ylim=(-0.395, 8.45),
         xmaj=[-10,-5,0,5], xmin=[-7.5,-2.5,2.5], ymaj=[0,2,4,6,8], ymin=[1,3,5,7],
         h=(-11.3, 6.31), vtop=8.04, title_y=770, leg_y=802.5, xl_y=1410.5, yl_y=1106, let=(470, 1455),
         down=c_down, up=c_up, no=c_no+c_edge, cx=c_cloud_x, ct=c_cloud_top, cb=c_cloud_bot),
    dict(title='AT10VSAT1', letter='d', box=(1077, 829, 1942, 1375), xlim=(-12.12, 7.21), ylim=(-0.38, 8.02),
         xmaj=[-10,-5,0,5], xmin=[-7.5,-2.5,2.5], ymaj=[0,2,4,6,8], ymin=[1,3,5,7],
         h=(-11.25, 6.32), vtop=7.62, title_y=763.5, leg_y=796, xl_y=1408.5, yl_y=1101.5, let=(1505, 1455),
         down=d_down, up=d_up, no=d_no+d_edge, cx=d_cloud_x, ct=d_cloud_top, cb=d_cloud_bot),
    dict(title='AT10VSAT01', letter='e', box=(46.5, 1565, 911, 2114), xlim=(-8.53, 7.30), ylim=(-0.32, 6.80),
         xmaj=[-8,-4,0,4], xmin=[-6,-2,2,6], ymaj=[0,2,4,6], ymin=[1,3,5],
         h=(-7.82, 6.58), vtop=6.48, title_y=1498.5, leg_y=1532.5, xl_y=2147, yl_y=1839, let=(470, 2174),
         down=e_down, up=e_up, no=e_no+e_edge, cx=e_cloud_x, ct=e_cloud_top, cb=e_cloud_bot),
    dict(title='AT1VSAT01', letter='f', box=(1077, 1565, 1942, 2114), xlim=(-6.92, 12.10), ylim=(-0.37, 7.86),
         xmaj=[-5,0,5,10], xmin=[-2.5,2.5,7.5], ymaj=[0,2,4,6], ymin=[1,3,5,7],
         h=(-6.06, 11.23), vtop=7.49, title_y=1498.5, leg_y=1532.5, xl_y=2147, yl_y=1839, let=(1510, 2174),
         down=f_down, up=f_up, no=f_no+f_edge, cx=f_cloud_x, ct=f_cloud_top, cb=f_cloud_bot),
]

fig = plt.figure(figsize=(W/100, H/100), dpi=100, facecolor='white')
fx = lambda p: p / W
fy = lambda p: 1 - p / H

def minus(v):
    return f'\u2212{abs(v)}' if v < 0 else f'{v}'

for p in panels:
    l, t, r, b = p['box']
    ax = fig.add_axes([fx(l), fy(b), (r - l) / W, (b - t) / H], facecolor='#EBEBEB')
    for s in ax.spines.values():
        s.set_visible(False)
    ax.set_xlim(*p['xlim'])
    ax.set_ylim(*p['ylim'])
    ax.set_xticks(p['xmaj'])
    ax.set_xticks(p['xmin'], minor=True)
    ax.set_yticks(p['ymaj'])
    ax.set_yticks(p['ymin'], minor=True)
    ax.grid(True, which='major', color='white', lw=1.7)
    ax.grid(True, which='minor', color='white', lw=1.0)
    ax.set_axisbelow(True)
    ax.tick_params(which='minor', length=0)
    ax.tick_params(which='major', length=2.5, width=1, color='#333333', pad=4)
    ax.set_xticklabels([minus(v) for v in p['xmaj']], fontsize=13, color=TXT, ha='right')
    ax.set_yticklabels([minus(v) for v in p['ymaj']], fontsize=13, color=TXT, va='top')

    # grey points and dense core
    ax.scatter(*zip(*p['no']), s=25, color=NO, alpha=0.75, lw=0, zorder=2.6)
    ax.fill_between(p['cx'], p['cb'], p['ct'], color=CORE, lw=0, zorder=2.5)
    ax.scatter(*zip(*p['down']), s=24, color=DOWN, alpha=0.8, lw=0, zorder=3)
    ax.scatter(*zip(*p['up']), s=24, color=UP, alpha=0.72, lw=0, zorder=3)

    # thresholds
    dash = dict(color='#7f7f7f', lw=1.1, ls=(0, (4, 3)), zorder=4)
    ax.plot(p['h'], [p_cut, p_cut], **dash)
    ax.plot([-fc_cut, -fc_cut], [0, p['vtop']], **dash)
    ax.plot([fc_cut, fc_cut], [0, p['vtop']], **dash)

    # text
    fig.text(fx(l), fy(p['title_y']), p['title'], fontsize=16.5, fontweight='bold', color='#1a1a1a', ha='left', va='center')
    xc = 478.5 if l < 900 else 1510
    ylx = 11 if l < 900 else 1043
    fig.text(fx(xc), fy(p['xl_y']), 'log2(Fold change)', fontsize=16.5, fontweight='bold', color=TXT, ha='center', va='center')
    fig.text(fx(ylx), fy(p['yl_y']), '\u2212log10(pval)', fontsize=15, fontweight='bold', color=TXT,
             ha='center', va='center', rotation=90)
    fig.text(fx(p['let'][0]), fy(p['let'][1]), p['letter'], fontsize=36, family='Liberation Serif', color='black',
             ha='center', va='center')

    # legend
    x0 = 380 if l < 900 else 1411
    yc = p['leg_y']
    offsets = [0, 59.6, 118.5]
    cols = ['#df5f70', '#a8a8a8', '#4a80c0']
    for off, col, lab in zip(offsets, cols, legend_labels):
        fig.add_artist(Rectangle((fx(x0 + off), fy(yc + 10.5)), 23 / W, 21 / H, transform=fig.transFigure,
                                 facecolor='#F2F2F2', edgecolor='none'))
        fig.add_artist(Line2D([fx(x0 + off + 11.5)], [fy(yc)], marker='o', ms=3.8, color=col, mec='none',
                              transform=fig.transFigure))
        fig.text(fx(x0 + off + 26.7), fy(yc), lab, fontsize=17, fontweight='bold', color=TXT, ha='left', va='center_baseline')

fig.savefig('out.png', dpi=100)
